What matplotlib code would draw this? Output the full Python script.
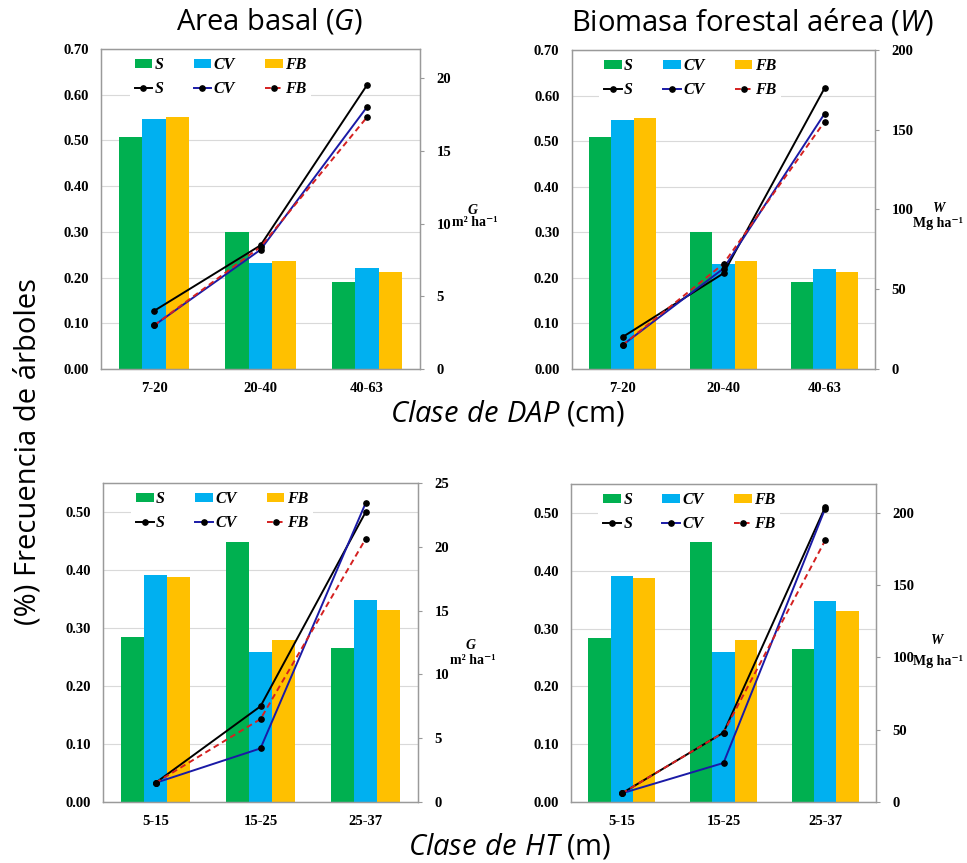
import matplotlib
matplotlib.use('Agg')
import matplotlib.pyplot as plt
import numpy as np
from matplotlib.ticker import FormatStrFormatter

# categories
dap_classes = ['7-20', '20-40', '40-63']
ht_classes = ['5-15', '15-25', '25-37']
groups = ['S', 'CV', 'FB']

# tree frequency (bars, left axis)
freq_dap_S = [0.508, 0.300, 0.190]
freq_dap_CV = [0.546, 0.231, 0.220]
freq_dap_FB = [0.551, 0.237, 0.212]
freq_ht_S = [0.284, 0.449, 0.265]
freq_ht_CV = [0.391, 0.259, 0.348]
freq_ht_FB = [0.388, 0.280, 0.331]

# basal area G (m2 ha-1) and biomass W (Mg ha-1), lines on right axis
G_dap_S = [4.0, 8.5, 19.5]
G_dap_CV = [3.0, 8.2, 18.0]
G_dap_FB = [3.0, 8.4, 17.3]
W_dap_S = [20, 60, 176]
W_dap_CV = [15, 63, 160]
W_dap_FB = [15, 66, 155]
G_ht_S = [1.5, 7.5, 22.7]
G_ht_CV = [1.5, 4.2, 23.4]
G_ht_FB = [1.5, 6.5, 20.6]
W_ht_S = [6, 48, 204]
W_ht_CV = [6, 27, 203]
W_ht_FB = [6, 48, 181]

plt.rcParams['font.family'] = ['Liberation Serif', 'DejaVu Serif']
plt.rcParams['font.weight'] = 'bold'
plt.rcParams['mathtext.fontset'] = 'custom'
plt.rcParams['mathtext.rm'] = 'Open Sans:weight=normal'
plt.rcParams['mathtext.it'] = 'Open Sans:style=italic:weight=normal'

bar_colors = ['#00b050', '#00b0f0', '#ffc000']
line_colors = ['black', '#1a1aa6', '#d42020']
line_styles = ['-', '-', (0, (3, 2))]
W_PX, H_PX = 967, 863

fig = plt.figure(figsize=(W_PX / 100, H_PX / 100), dpi=100)


def px_rect(x0, y0, x1, y1):
    return [x0 / W_PX, 1 - y1 / H_PX, (x1 - x0) / W_PX, (y1 - y0) / H_PX]


def panel(rect, cats, bars, lines, lmax, lticks, rmax, rticks):
    ax = fig.add_axes(rect)
    x = np.arange(len(cats))
    w = 0.22
    handles = []
    for i, vals in enumerate(bars):
        b = ax.bar(x + (i - 1) * w, vals, w, color=bar_colors[i], zorder=2)
        handles.append(b)
    ax.set_xlim(-0.5, 2.5)
    ax.set_ylim(0, lmax)
    ax.set_yticks(lticks)
    ax.yaxis.set_major_formatter(FormatStrFormatter('%.2f'))
    ax.grid(axis='y', color='#d9d9d9', lw=0.8)
    ax.set_axisbelow(True)
    ax.set_xticks(x, cats)
    ax.tick_params(axis='both', length=0, labelsize=10.5)
    ax.tick_params(axis='y', pad=9)
    ax.tick_params(axis='x', pad=9)

    ax2 = ax.twinx()
    line_handles = []
    for i, vals in enumerate(lines):
        l, = ax2.plot(x, vals, color=line_colors[i], ls=line_styles[i], lw=1.4,
                      marker='o', ms=3.8, mfc='black', mec='black', zorder=3)
        line_handles.append(l)
    ax2.set_ylim(0, rmax)
    ax2.set_yticks(rticks)
    ax2.tick_params(axis='y', length=3, color='#999999', labelsize=10.5, pad=9)
    for a in (ax, ax2):
        for s in a.spines.values():
            s.set_color('#9a9a9a')
            s.set_linewidth(0.9)

    hs, ls = [], []
    for i in range(3):
        hs += [handles[i], line_handles[i]]
        ls += [groups[i], groups[i]]
    ax2.legend(hs, ls, ncol=3, loc='upper left', bbox_to_anchor=(0.09, 0.99),
               borderaxespad=0, borderpad=0.3, handlelength=1.1, handleheight=0.5,
               handletextpad=0.15, columnspacing=1.9, labelspacing=0.5,
               prop={'family': ['Liberation Serif'], 'style': 'italic',
                     'weight': 'bold', 'size': 11.5},
               frameon=True, fancybox=False, framealpha=1, edgecolor='none')
    return ax, ax2


panel(px_rect(101, 49, 420, 369), dap_classes,
      [freq_dap_S, freq_dap_CV, freq_dap_FB], [G_dap_S, G_dap_CV, G_dap_FB],
      0.70, np.arange(0, 0.71, 0.1), 22, [0, 5, 10, 15, 20])
panel(px_rect(572, 50, 875, 369), dap_classes,
      [freq_dap_S, freq_dap_CV, freq_dap_FB], [W_dap_S, W_dap_CV, W_dap_FB],
      0.70, np.arange(0, 0.71, 0.1), 200, [0, 50, 100, 150, 200])
panel(px_rect(103, 483, 418, 802), ht_classes,
      [freq_ht_S, freq_ht_CV, freq_ht_FB], [G_ht_S, G_ht_CV, G_ht_FB],
      0.55, np.arange(0, 0.51, 0.1), 25, [0, 5, 10, 15, 20, 25])
panel(px_rect(571, 484, 876, 802), ht_classes,
      [freq_ht_S, freq_ht_CV, freq_ht_FB], [W_ht_S, W_ht_CV, W_ht_FB],
      0.55, np.arange(0, 0.51, 0.1), 220, [0, 50, 100, 150, 200])


def ftext(xp, yp, s, **kw):
    fig.text(xp / W_PX, 1 - yp / H_PX, s, ha='center', va='center', **kw)


sans = dict(family=['Open Sans', 'DejaVu Sans'], weight='normal', size=21)
ftext(270, 22, r'Area basal ($\mathit{G}$)', **sans)
ftext(752, 22, r'Biomasa forestal aérea ($\mathit{W}$)', **sans)
ftext(508, 414, r'$\mathit{Clase\ de\ DAP}$ (cm)', **sans)
ftext(510, 846, r'$\mathit{Clase\ de\ HT}$ (m)', **sans)
ftext(28, 452, '(%) Frecuencia de árboles', rotation=90, **sans)

unit = dict(family=['Liberation Serif', 'DejaVu Serif'], weight='bold', size=10)
ftext(473, 211, 'G', style='italic', **unit)
ftext(475, 223, 'm² ha⁻¹', **unit)
ftext(938, 209, 'W', style='italic', **unit)
ftext(938, 223, 'Mg ha⁻¹', **unit)
ftext(471, 645, 'G', style='italic', **unit)
ftext(473, 660, 'm² ha⁻¹', **unit)
ftext(936, 640, 'W', style='italic', **unit)
ftext(938, 661, 'Mg ha⁻¹', **unit)

plt.savefig('out.png', dpi=100)
